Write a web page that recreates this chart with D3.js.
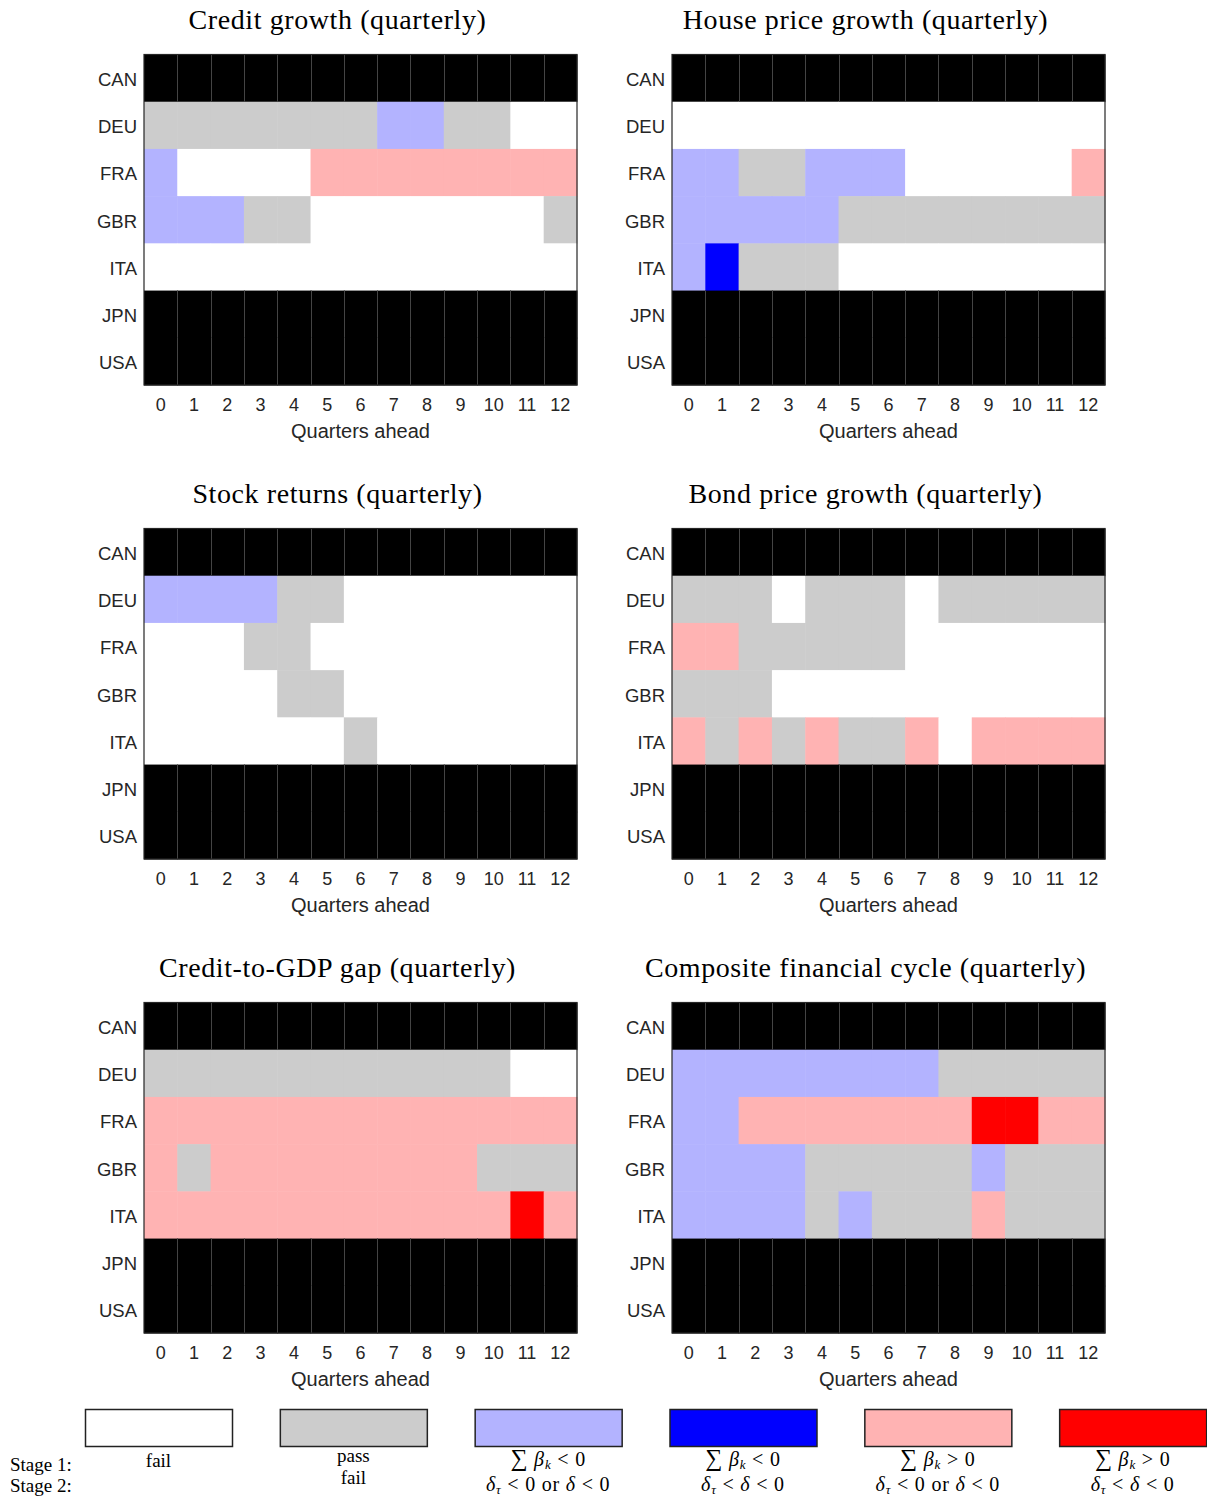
<!DOCTYPE html>
<html>
<head>
<meta charset="utf-8">
<script src="https://cdn.jsdelivr.net/npm/d3@7"></script>
<style>
  html, body { margin: 0; padding: 0; background: #fff; }
  svg { display: block; }
</style>
</head>
<body>
<svg id="chart" width="1207" height="1499"></svg>
<script>
// Countries (rows) and forecast horizons (columns)
const countries = ["CAN", "DEU", "FRA", "GBR", "ITA", "JPN", "USA"];
const quarters = [0, 1, 2, 3, 4, 5, 6, 7, 8, 9, 10, 11, 12];

// Test outcome per country and horizon:
// X = no data, F = fail, P = pass / fail,
// b = sum beta < 0 (weak), B = sum beta < 0 (strong),
// r = sum beta > 0 (weak), R = sum beta > 0 (strong)
const creditGrowth = [
  "XXXXXXXXXXXXX",
  "PPPPPPPbbPPFF",
  "bFFFFrrrrrrrr",
  "bbbPPFFFFFFFP",
  "FFFFFFFFFFFFF",
  "XXXXXXXXXXXXX",
  "XXXXXXXXXXXXX"
];
const housePriceGrowth = [
  "XXXXXXXXXXXXX",
  "FFFFFFFFFFFFF",
  "bbPPbbbFFFFFr",
  "bbbbbPPPPPPPP",
  "bBPPPFFFFFFFF",
  "XXXXXXXXXXXXX",
  "XXXXXXXXXXXXX"
];
const stockReturns = [
  "XXXXXXXXXXXXX",
  "bbbbPPFFFFFFF",
  "FFFPPFFFFFFFF",
  "FFFFPPFFFFFFF",
  "FFFFFFPFFFFFF",
  "XXXXXXXXXXXXX",
  "XXXXXXXXXXXXX"
];
const bondPriceGrowth = [
  "XXXXXXXXXXXXX",
  "PPPFPPPFPPPPP",
  "rrPPPPPFFFFFF",
  "PPPFFFFFFFFFF",
  "rPrPrPPrFrrrr",
  "XXXXXXXXXXXXX",
  "XXXXXXXXXXXXX"
];
const creditToGdpGap = [
  "XXXXXXXXXXXXX",
  "PPPPPPPPPPPFF",
  "rrrrrrrrrrrrr",
  "rPrrrrrrrrPPP",
  "rrrrrrrrrrrRr",
  "XXXXXXXXXXXXX",
  "XXXXXXXXXXXXX"
];
const compositeCycle = [
  "XXXXXXXXXXXXX",
  "bbbbbbbbPPPPP",
  "bbrrrrrrrRRrr",
  "bbbbPPPPPbPPP",
  "bbbbPbPPPrPPP",
  "XXXXXXXXXXXXX",
  "XXXXXXXXXXXXX"
];

const panelTitles = [
  "Credit growth (quarterly)",
  "House price growth (quarterly)",
  "Stock returns (quarterly)",
  "Bond price growth (quarterly)",
  "Credit-to-GDP gap (quarterly)",
  "Composite financial cycle (quarterly)"
];
const panelData = [creditGrowth, housePriceGrowth, stockReturns, bondPriceGrowth, creditToGdpGap, compositeCycle];

// Legend entries
const legendCodes = ["F", "P", "b", "B", "r", "R"];

const codeColor = {
  X: "#000000",
  F: "#ffffff",
  P: "#cccccc",
  b: "#b3b3ff",
  B: "#0000ff",
  r: "#ffb3b3",
  R: "#ff0000"
};

// ---------- layout ----------
const colX = [144, 672];
const rowY = [54.5, 528.5, 1002.5];
const plotW = 433, plotH = 330.5;
const titleShift = -23;
const textColor = "#262626";
const sansFont = "'Liberation Sans', Arial, Helvetica, sans-serif";
const serifFont = "'Liberation Serif', 'Times New Roman', serif";

const svg = d3.select("#chart");

const x = d3.scaleBand().domain(quarters).range([0, plotW]).paddingInner(0).paddingOuter(0);
const y = d3.scaleBand().domain(countries).range([0, plotH]).paddingInner(0).paddingOuter(0);

panelData.forEach((rows, i) => {
  const px = colX[i % 2], py = rowY[Math.floor(i / 2)];
  const g = svg.append("g").attr("transform", `translate(${px},${py})`);

  const cells = [];
  rows.forEach((row, r) => {
    row.split("").forEach((code, c) => {
      cells.push({ country: countries[r], q: quarters[c], code });
    });
  });

  g.selectAll("rect.cell")
    .data(cells)
    .join("rect")
    .attr("class", "cell")
    .attr("x", d => x(d.q))
    .attr("y", d => y(d.country))
    .attr("width", x.bandwidth() + 0.5)
    .attr("height", y.bandwidth() + 0.5)
    .attr("fill", d => codeColor[d.code]);

  // thin separators between no-data cells
  g.selectAll("line.sep")
    .data(cells.filter(d => d.code === "X" && d.q !== quarters[0]))
    .join("line")
    .attr("class", "sep")
    .attr("x1", d => Math.round(x(d.q)) + 0.5)
    .attr("x2", d => Math.round(x(d.q)) + 0.5)
    .attr("y1", d => y(d.country))
    .attr("y2", d => y(d.country) + y.bandwidth())
    .attr("stroke", "#444")
    .attr("stroke-width", 1);

  // frame
  g.append("rect")
    .attr("x", 0).attr("y", 0)
    .attr("width", plotW).attr("height", plotH)
    .attr("fill", "none")
    .attr("stroke", textColor)
    .attr("stroke-width", 1.2);

  // axes
  const xAxis = g.append("g")
    .attr("transform", `translate(0,${plotH})`)
    .call(d3.axisBottom(x).tickSize(0).tickPadding(13));
  xAxis.select(".domain").remove();
  xAxis.selectAll("text")
    .attr("font-family", sansFont)
    .attr("font-size", 18)
    .attr("fill", textColor);

  const yAxis = g.append("g")
    .call(d3.axisLeft(y).tickSize(0).tickPadding(7));
  yAxis.select(".domain").remove();
  yAxis.selectAll("text")
    .attr("dy", "0.42em")
    .attr("font-family", sansFont)
    .attr("font-size", 18.5)
    .attr("fill", textColor);

  g.append("text")
    .attr("x", plotW / 2)
    .attr("y", plotH + 53)
    .attr("text-anchor", "middle")
    .attr("font-family", sansFont)
    .attr("font-size", 20)
    .attr("fill", textColor)
    .text("Quarters ahead");

  g.append("text")
    .attr("x", plotW / 2 + titleShift)
    .attr("y", -26)
    .attr("text-anchor", "middle")
    .attr("font-family", serifFont)
    .attr("font-size", 28)
    .attr("letter-spacing", 0.6)
    .attr("fill", "#000")
    .text(panelTitles[i]);
});

// ---------- legend ----------
const legend = svg.append("g");
const lx = d3.scaleBand().domain(legendCodes).range([85, 1206 + 48]).paddingInner(0).paddingOuter(0);
const boxW = 147, boxTop = 1409, boxH = 37;

legend.selectAll("rect")
  .data(legendCodes)
  .join("rect")
  .attr("x", d => lx(d) + 0.5)
  .attr("y", boxTop + 0.5)
  .attr("width", boxW)
  .attr("height", boxH)
  .attr("fill", d => codeColor[d])
  .attr("stroke", "#222")
  .attr("stroke-width", 1.5);

const lt = (x0, y0, size) => legend.append("text")
  .attr("x", x0).attr("y", y0)
  .attr("text-anchor", "middle")
  .attr("font-family", serifFont)
  .attr("font-size", size || 19)
  .attr("fill", "#000");

legend.append("text").attr("x", 10).attr("y", 1471)
  .attr("font-family", serifFont).attr("font-size", 19).text("Stage 1:");
legend.append("text").attr("x", 10).attr("y", 1492)
  .attr("font-family", serifFont).attr("font-size", 19).text("Stage 2:");

const cx = d => lx(d) + boxW / 2;
lt(cx("F"), 1467).text("fail");
lt(cx("P"), 1462).text("pass");
lt(cx("P"), 1484).text("fail");

function sumBeta(t, sign) {
  t.attr("letter-spacing", 0.8);
  t.append("tspan").attr("font-size", 24).text("\u2211");
  t.append("tspan").text(" ");
  t.append("tspan").attr("font-style", "italic").text("\u03B2");
  t.append("tspan").attr("font-style", "italic").attr("font-size", 13).attr("dy", 3).text("k");
  t.append("tspan").attr("dy", -3).text(` ${sign} 0`);
}
function deltaOr(t) {
  t.attr("letter-spacing", 0.8);
  t.append("tspan").attr("font-style", "italic").text("\u03B4");
  t.append("tspan").attr("font-style", "italic").attr("font-size", 13).attr("dy", 3).text("\u03C4");
  t.append("tspan").attr("dy", -3).text(" < 0 or ");
  t.append("tspan").attr("font-style", "italic").text("\u03B4");
  t.append("tspan").text(" < 0");
}
function deltaChain(t) {
  t.attr("letter-spacing", 0.8);
  t.append("tspan").attr("font-style", "italic").text("\u03B4");
  t.append("tspan").attr("font-style", "italic").attr("font-size", 13).attr("dy", 3).text("\u03C4");
  t.append("tspan").attr("dy", -3).text(" < ");
  t.append("tspan").attr("font-style", "italic").text("\u03B4");
  t.append("tspan").text(" < 0");
}

const mathSize = 20;
sumBeta(lt(cx("b"), 1466, mathSize), "<");
deltaOr(lt(cx("b"), 1491, mathSize));
sumBeta(lt(cx("B"), 1466, mathSize), "<");
deltaChain(lt(cx("B"), 1491, mathSize));
sumBeta(lt(cx("r"), 1466, mathSize), ">");
deltaOr(lt(cx("r"), 1491, mathSize));
sumBeta(lt(cx("R"), 1466, mathSize), ">");
deltaChain(lt(cx("R"), 1491, mathSize));
</script>
</body>
</html>
